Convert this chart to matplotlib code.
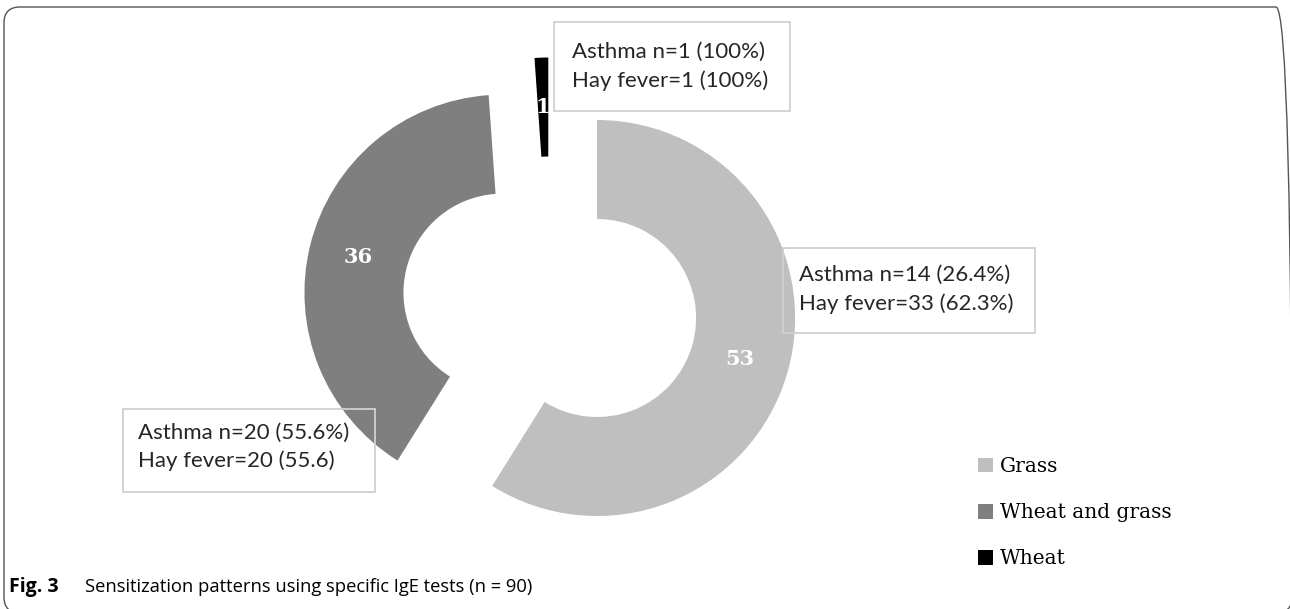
import matplotlib
matplotlib.use("Agg")
import matplotlib.pyplot as plt
from matplotlib.patches import FancyBboxPatch, Rectangle

# ---- data ----
categories = ["Grass", "Wheat and grass", "Wheat"]
counts = [53, 36, 1]
colors = ["#bfbfbf", "#7f7f7f", "#000000"]
notes = {
    "Grass": ["Asthma n=14 (26.4%)", "Hay fever=33 (62.3%)"],
    "Wheat and grass": ["Asthma n=20 (55.6%)", "Hay fever=20 (55.6)"],
    "Wheat": ["Asthma n=1 (100%)", "Hay fever=1 (100%)"],
}
caption_bold = "Fig. 3"
caption_text = "Sensitization patterns using specific IgE tests (n = 90)"

W, H = 1290, 609
fig = plt.figure(figsize=(W / 100, H / 100), dpi=100)
ax = fig.add_axes([0, 0, 1, 1])

def Y(img_y):
    return H - img_y

total = sum(counts)
wedges, texts, autotexts = ax.pie(
    counts, colors=colors, startangle=90, counterclock=False,
    center=(550, Y(304.5)), radius=198, explode=[49] * len(counts),
    autopct=lambda p: f"{round(p * total / 100)}", pctdistance=0.75,
    wedgeprops=dict(width=99, linewidth=0),
    textprops=dict(color="white", fontsize=15, fontweight="bold",
                   family="DejaVu Serif"),
)
ax.set_xlim(0, W)
ax.set_ylim(0, H)
ax.set_aspect("equal")
ax.axis("off")

# annotation boxes (pixel positions)
box_geom = {
    "Wheat": (554, 22, 790, 111, 572, (58, 87)),
    "Grass": (783, 248, 1035, 333, 799, (281, 310)),
    "Wheat and grass": (123, 409, 375, 492, 138, (439, 467)),
}
for cat, (x0, y0, x1, y1, tx, bl) in box_geom.items():
    ax.add_patch(Rectangle((x0, Y(y1)), x1 - x0, y1 - y0, fill=False,
                           edgecolor="#d0d0d0", linewidth=1.3, zorder=3))
    for line, b in zip(notes[cat], bl):
        ax.text(tx, Y(b), line, fontsize=16, family="Lato", color="#262626",
                va="baseline", ha="left", zorder=4)

# legend
fig.legend(wedges, categories, loc="upper left",
           bbox_to_anchor=(978 / W, Y(457) / H), frameon=False,
           prop=dict(family="DejaVu Serif", size=14.5), handlelength=0.75,
           handleheight=0.75, handletextpad=0.35, labelspacing=1.35,
           borderpad=0, borderaxespad=0)

# caption
ax.text(9, Y(592), caption_bold, fontsize=14, fontweight="bold",
        family="Open Sans", va="baseline", ha="left")
ax.text(85, Y(592), caption_text, fontsize=13.2, family="Open Sans",
        va="baseline", ha="left")

# figure frame
ax.add_patch(FancyBboxPatch((4, -4), 1288, Y(7) + 4,
                            boxstyle="round,pad=0,rounding_size=16",
                            fill=False, edgecolor="#555555", linewidth=1.0,
                            clip_on=False))

fig.savefig("out.png", dpi=100)
